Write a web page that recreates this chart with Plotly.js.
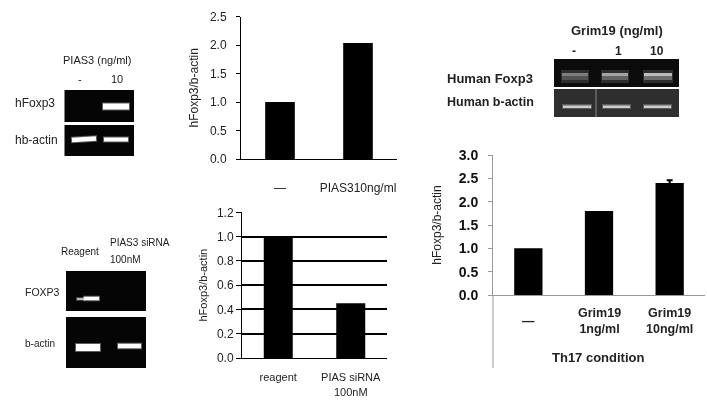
<!DOCTYPE html>
<html>
<head>
<meta charset="utf-8">
<script src="https://cdn.plot.ly/plotly-3.0.1.min.js"></script>
<style>
  html, body { margin: 0; padding: 0; background: #fff; }
  /* the source figure is a soft, low resolution scan */
  #plot { width: 707px; height: 407px; filter: blur(0.45px); }
</style>
</head>
<body>
<div id="plot"></div>
<script>
var W = 707, H = 407;

// values
var piasCats = ['—', 'PIAS310ng/ml'];
var piasVals = [1.0, 2.04];
var sirnaCats = ['reagent', 'PIAS siRNA'];
var sirnaVals = [1.0, 0.45];
var grimCats = ['—', 'Grim19<br>1ng/ml', 'Grim19<br>10ng/ml'];
var grimVals = [1.0, 1.8, 2.4];
var grimErr = 0.06; // only the last bar has an error bar

var FONT = '"Liberation Sans", Arial, sans-serif';

function px(x) { return x / W; }
function py(y) { return 1 - y / H; }

var shapes = [];
var annotations = [];

function rect(x0, y0, x1, y1, color, opacity) {
  shapes.push({type: 'rect', xref: 'paper', yref: 'paper', layer: 'below',
    x0: px(x0), x1: px(x1), y0: py(y0), y1: py(y1),
    fillcolor: color, opacity: opacity === undefined ? 1 : opacity, line: {width: 0}});
}
function line(x0, y0, x1, y1, color, width, opacity) {
  shapes.push({type: 'line', xref: 'paper', yref: 'paper', layer: 'below',
    opacity: opacity === undefined ? 1 : opacity,
    x0: px(x0), x1: px(x1), y0: py(y0), y1: py(y1), line: {color: color, width: width}});
}
// soft edged gel band, a thick line with a faint halo
function band(x0, y0, x1, y1, width, color) {
  line(x0 - 1, y0, x1 + 1, y1, color, width + 2, 0.35);
  line(x0, y0, x1, y1, color, width, 1);
}
function label(text, x, y, size, anchor, bold, color) {
  var a = anchor || 'left';
  annotations.push({text: bold ? '<b>' + text + '</b>' : text, xref: 'paper', yref: 'paper',
    x: px(a == 'left' ? x - 2 : x), y: py(y), xanchor: a, yanchor: 'middle', showarrow: false,
    font: {family: FONT, size: size, color: color || '#222'}});
}

// top left gel
rect(64.5, 90, 134, 122, '#050505');
rect(64.5, 125, 134, 156, '#050505');
band(103, 106.5, 129, 106.5, 6, '#fff');
band(72, 140, 96, 138.5, 4.5, '#fff');
band(104, 139.5, 128, 139.5, 4, '#fff');
label('PIAS3 (ng/ml)', 97, 60, 11, 'center');
label('-', 80, 79, 11, 'center');
label('10', 117, 79, 11, 'center');
label('hFoxp3', 15, 103, 12);
label('hb-actin', 15, 140, 12);

// bottom left gel
rect(66, 271, 146, 311, '#050505');
rect(66, 317, 146, 368, '#050505');
band(84, 298.5, 99, 298.5, 3.5, '#fff');
band(77, 299, 84, 299, 1.5, '#ddd');
band(76, 347.5, 100, 347.5, 7, '#fff');
band(118, 346, 141, 346, 4.5, '#fff');
label('Reagent', 61, 251, 10);
label('PIAS3 siRNA', 110, 242, 10);
label('100nM', 110, 259, 10);
label('FOXP3', 25, 292, 10.5);
label('b-actin', 25, 343, 10);

// top right gel
rect(554, 59, 679, 87, '#0c0c0c');
rect(554, 89, 679, 117, '#2e2e2e');
line(596, 89, 596, 117, '#888', 1);
[[561, 589, 0.5], [601, 629, 0.75], [643, 673, 0.9]].forEach(function (b) {
  rect(b[0], 70, b[1], 83, '#444', 0.6);
  rect(b[0] + 1, 73, b[1] - 1, 76, '#ccc', b[2]);
  rect(b[0] + 1, 76, b[1] - 1, 80, '#777', b[2]);
});
[[563, 591], [603, 630], [644, 671]].forEach(function (b) {
  rect(b[0] - 1, 104, b[1] + 1, 109, '#888', 0.5);
  rect(b[0], 105.5, b[1], 108, '#ccc');
});
label('Grim19 (ng/ml)', 617, 30, 13, 'center', true);
label('-', 574, 51, 12, 'center', true);
label('1', 618, 51, 12, 'center', true);
label('10', 657, 51, 12, 'center', true);
label('Human Foxp3', 447, 78, 13, 'left', true);
label('Human b-actin', 447, 102, 12.5, 'left', true);

// grim19 chart extras: long y axis and the labels under the bars
line(493, 295, 493, 368, '#999', 1);
grimCats.forEach(function (c, i) {
  annotations.push({text: '<b>' + c + '</b>', xref: 'x3', yref: 'paper', x: c, y: py(321),
    xanchor: 'center', yanchor: 'middle', showarrow: false,
    font: {family: FONT, size: 12.5, color: '#222'}});
});
label('Th17 condition', 598, 357, 13, 'center', true);

// second line of the siRNA label sits further down than a normal line break
annotations.push({text: '100nM', xref: 'x2', yref: 'paper', x: 'PIAS siRNA', y: py(392),
  xanchor: 'center', yanchor: 'middle', showarrow: false,
  font: {family: FONT, size: 11, color: '#222'}});

var data = [
  {type: 'bar', x: piasCats, y: piasVals, xaxis: 'x', yaxis: 'y', width: 0.38,
    marker: {color: '#000'}},
  {type: 'bar', x: sirnaCats, y: sirnaVals, xaxis: 'x2', yaxis: 'y2', width: 0.4,
    marker: {color: '#000'}},
  {type: 'bar', x: grimCats, y: grimVals, xaxis: 'x3', yaxis: 'y3', width: 0.4,
    marker: {color: '#000'}},
  {type: 'scatter', mode: 'markers', x: [grimCats[2]], y: [grimVals[2]], xaxis: 'x3', yaxis: 'y3',
    marker: {size: 1, color: '#000'},
    error_y: {type: 'constant', value: grimErr, color: '#000', thickness: 2, width: 3}}
];

var layout = {
  width: W, height: H,
  margin: {l: 0, r: 0, t: 0, b: 0},
  paper_bgcolor: '#fff', plot_bgcolor: 'rgba(0,0,0,0)',
  showlegend: false,
  font: {family: FONT, color: '#222'},
  shapes: shapes,
  annotations: annotations,

  xaxis: {domain: [px(241), px(397)], anchor: 'y', type: 'category', range: [-0.5, 1.5],
    showline: true, linecolor: '#000', linewidth: 1, showgrid: false,
    ticks: '', ticklabelstandoff: 18, tickfont: {size: 12}},
  yaxis: {domain: [py(159), py(16.7)], anchor: 'x', range: [0, 2.5], tickvals: [0, 0.5, 1, 1.5, 2, 2.5],
    tickformat: '.1f', ticklabelstandoff: 7, showline: true, linecolor: '#000', linewidth: 1, showgrid: false, zeroline: false,
    ticks: 'outside', ticklen: 4, tickcolor: '#000', tickfont: {size: 12},
    title: {text: 'hFoxp3/b-actin', font: {size: 12}, standoff: 8}},

  xaxis2: {domain: [px(242), px(387)], anchor: 'y2', type: 'category', range: [-0.5, 1.5],
    showline: true, linecolor: '#000', linewidth: 1, showgrid: false,
    ticks: '', ticklabelstandoff: 9, tickfont: {size: 11}},
  yaxis2: {domain: [py(358), py(212.3)], anchor: 'x2', range: [0, 1.2], tickvals: [0, 0.2, 0.4, 0.6, 0.8, 1, 1.2],
    tickformat: '.1f', showline: true, linecolor: '#000', linewidth: 1, showgrid: true,
    gridcolor: '#000', gridwidth: 2, zeroline: false,
    ticks: 'outside', ticklen: 5, tickcolor: '#000', tickfont: {size: 12},
    title: {text: 'hFoxp3/b-actin', font: {size: 11}, standoff: 7}},

  xaxis3: {domain: [px(493), px(705)], anchor: 'y3', type: 'category', range: [-0.5, 2.5],
    showline: true, linecolor: '#999', linewidth: 1, showgrid: false, ticks: '', showticklabels: false},
  yaxis3: {domain: [py(295), py(155)], anchor: 'x3', range: [0, 3], tickvals: [0, 0.5, 1, 1.5, 2, 2.5, 3],
    tickformat: '.1f', ticklabelstandoff: 7, showline: true, linecolor: '#999', linewidth: 1, showgrid: false, zeroline: false,
    ticks: 'outside', ticklen: 4, tickcolor: '#999',
    tickfont: {size: 14, family: FONT, weight: 'bold', color: '#111'},
    title: {text: 'hFoxp3/b-actin', font: {size: 12}, standoff: 14}}
};

Plotly.newPlot('plot', data, layout, {displayModeBar: false, staticPlot: true});
</script>
</body>
</html>
